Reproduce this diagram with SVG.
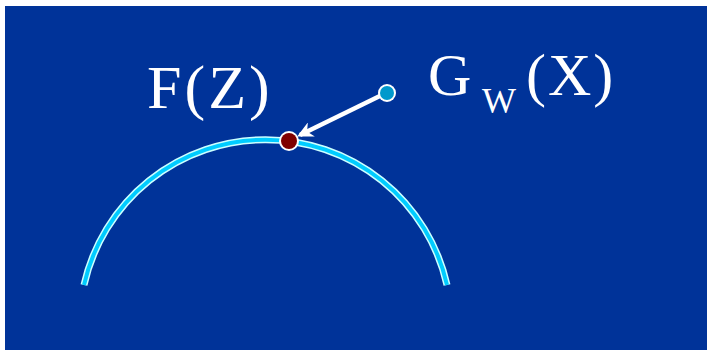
<svg xmlns="http://www.w3.org/2000/svg" width="707" height="350" viewBox="0 0 707 350">
  <style>
    .lbl { font-family: "Liberation Serif", "Times New Roman", serif; fill: #ffffff; }
  </style>
  <defs>
    <marker id="head" viewBox="0 0 10 10" refX="8" refY="5" markerWidth="3.5" markerHeight="3.5" orient="auto" markerUnits="strokeWidth">
      <path d="M0,0 L10,5 L0,10 L3,5 Z" fill="#ffffff"/>
    </marker>
  </defs>
  <rect width="707" height="350" fill="#ffffff"/>
  <rect x="5" y="6" width="702" height="344" fill="#003399"/>

  <g id="curve">
    <path d="M84,285 A186,186 0 0 1 447,285" fill="none" stroke="#ccffff" stroke-width="7"/>
    <path d="M84,285 A186,186 0 0 1 447,285" fill="none" stroke="#00ccff" stroke-width="4"/>
  </g>

  <g id="connectors">
    <line x1="386" y1="93" x2="300" y2="135" stroke="#ffffff" stroke-width="4.5" marker-end="url(#head)"/>
  </g>

  <g id="point-z">
    <circle cx="289" cy="141" r="10" fill="#ffffff"/>
    <circle cx="289" cy="141" r="8" fill="#800000"/>
  </g>

  <g id="point-x">
    <circle cx="387" cy="93" r="9" fill="#ffffff"/>
    <circle cx="387" cy="93" r="7" fill="#0099cc"/>
  </g>

  <g id="label-f">
    <text class="lbl" x="147" y="108" font-size="62" letter-spacing="3">F(Z)</text>
  </g>

  <g id="label-g">
    <text class="lbl" x="428" y="95" font-size="60">G</text>
    <text class="lbl" x="482" y="113" font-size="36">W</text>
    <text class="lbl" x="526" y="95" font-size="60" letter-spacing="2">(X)</text>
  </g>
</svg>
